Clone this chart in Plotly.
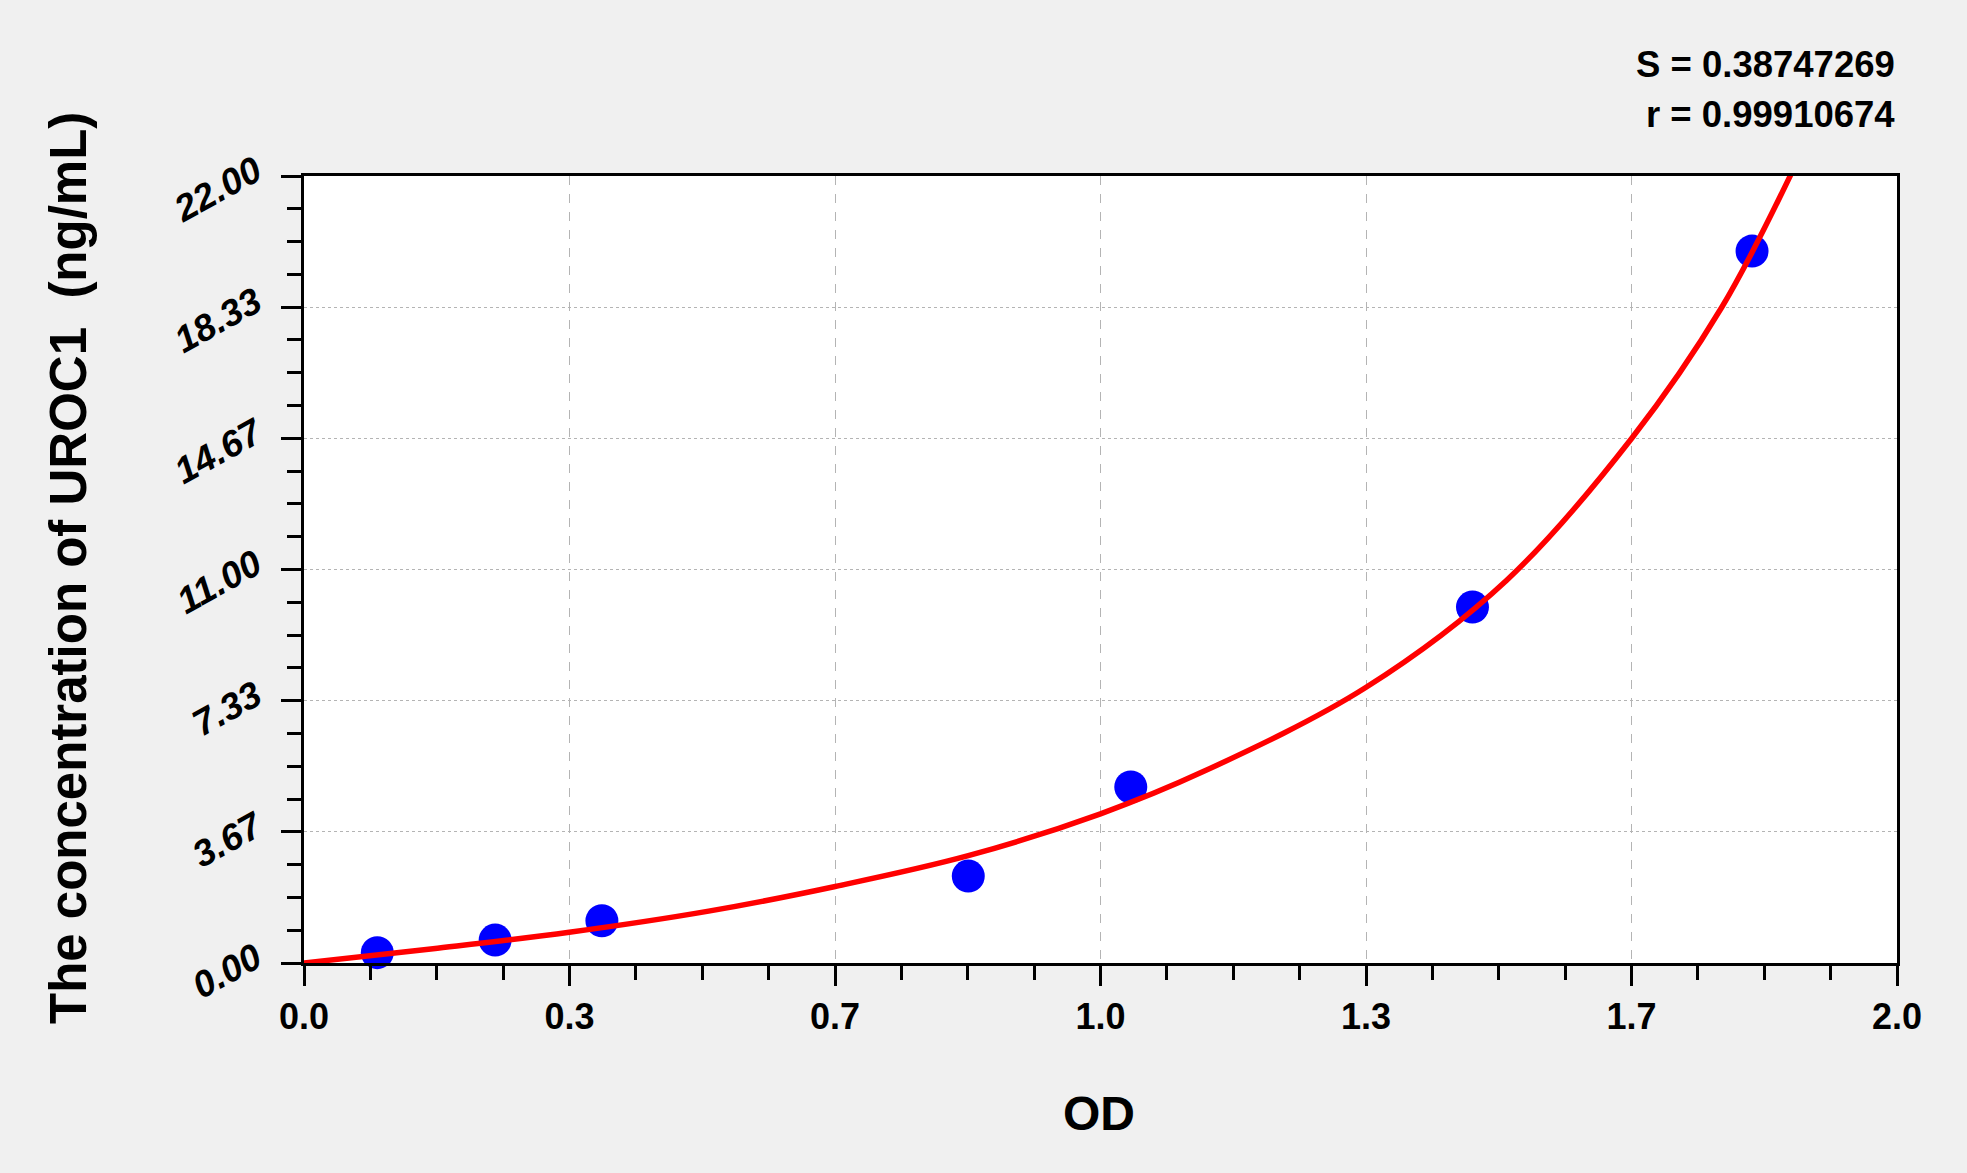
import plotly.graph_objects as go

# Standard points (OD, concentration ng/mL)
std_od = [0.092, 0.240, 0.374, 0.834, 1.038, 1.467, 1.818]
std_conc = [0.29, 0.64, 1.18, 2.43, 4.92, 9.95, 19.90]

# Fitted curve
curve_od = [0.0, 0.162, 0.333, 0.508, 0.667, 0.834, 1.0, 1.129, 1.333, 1.510, 1.667, 1.780, 1.868]
curve_conc = [0.0, 0.40, 0.86, 1.45, 2.14, 3.00, 4.17, 5.35, 7.70, 10.70, 14.67, 18.33, 22.1]

x_tickvals = [0, 1/3, 2/3, 1, 4/3, 5/3, 2]
x_ticktext = ["0.0", "0.3", "0.7", "1.0", "1.3", "1.7", "2.0"]
y_tickvals = [0, 22/6, 44/6, 11, 88/6, 110/6, 22]
y_ticktext = ["0.00", "3.67", "7.33", "11.00", "14.67", "18.33", "22.00"]

stats_lines = ["S = 0.38747269", "r = 0.99910674"]
x_title = "OD"
y_title = "The concentration of UROC1  (ng/mL)"

FONT = "Arial, Liberation Sans, sans-serif"

W, H = 1967, 1173
L, R, T, B = 304, 70, 176, 210

fig = go.Figure()
fig.add_trace(go.Scatter(
    x=std_od, y=std_conc, mode="markers",
    marker=dict(color="#0000FF", size=33, line=dict(width=0)),
    cliponaxis=False, showlegend=False,
))
fig.add_trace(go.Scatter(
    x=curve_od, y=curve_conc, mode="lines",
    line=dict(color="#FF0000", width=5.5, shape="spline", smoothing=1.0),
    cliponaxis=False, showlegend=False,
))

axis_common = dict(
    showline=True, linecolor="black", linewidth=3, mirror=True,
    ticks="outside", ticklen=20, tickwidth=2.5, tickcolor="black",
    showgrid=True, gridcolor="#b4b4b4", gridwidth=1,
    zeroline=False,
)

fig.update_xaxes(
    range=[0, 2], tickmode="array", tickvals=x_tickvals, ticktext=x_ticktext,
    tickfont=dict(family=FONT, size=36, color="black", weight="bold"),
    griddash="dash",
    minor=dict(tickmode="linear", tick0=0, dtick=1/12, ticks="outside", ticklen=14,
               tickwidth=2.5, tickcolor="black", showgrid=False),
    **axis_common,
)
fig.update_yaxes(
    range=[0, 22], tickmode="array", tickvals=y_tickvals, ticktext=y_ticktext,
    tickfont=dict(family=FONT, size=37, color="black", weight="bold", style="italic"),
    tickangle=-29, ticklabelstandoff=18, ticklabelshift=-9,
    griddash="dot",
    minor=dict(tickmode="linear", tick0=0, dtick=22/24, ticks="outside", ticklen=14,
               tickwidth=2.5, tickcolor="black", showgrid=False),
    **axis_common,
)

pw = W - L - R
ph = H - T - B

def px_x(p):
    return (p - L) / pw

def px_y(p):
    return (H - B - p) / ph

annotations = [
    dict(text=f"<b>{stats_lines[0]}</b>", x=1.0, y=px_y(65), xref="paper", yref="paper",
         xanchor="right", yanchor="middle", showarrow=False,
         font=dict(family=FONT, size=36.5, color="black")),
    dict(text=f"<b>{stats_lines[1]}</b>", x=1.0, y=px_y(114), xref="paper", yref="paper",
         xanchor="right", yanchor="middle", showarrow=False,
         font=dict(family=FONT, size=36.5, color="black")),
    dict(text=f"<b>{x_title}</b>", x=px_x(1099), y=px_y(1113), xref="paper", yref="paper",
         xanchor="center", yanchor="middle", showarrow=False,
         font=dict(family=FONT, size=48, color="black")),
    dict(text=f"<b>{y_title}</b>", x=px_x(68), y=px_y(568), xref="paper", yref="paper",
         xanchor="center", yanchor="middle", showarrow=False, textangle=-90,
         font=dict(family=FONT, size=51, color="black")),
]

fig.update_layout(
    width=W, height=H,
    margin=dict(l=L, r=R, t=T, b=B, autoexpand=False),
    paper_bgcolor="#F0F0F0", plot_bgcolor="white",
    annotations=annotations,
    showlegend=False,
)

fig.write_html(
    "out.html",
    config={"displayModeBar": False},
    post_script="document.body.style.margin='0';document.body.style.backgroundColor='#F0F0F0';",
)
